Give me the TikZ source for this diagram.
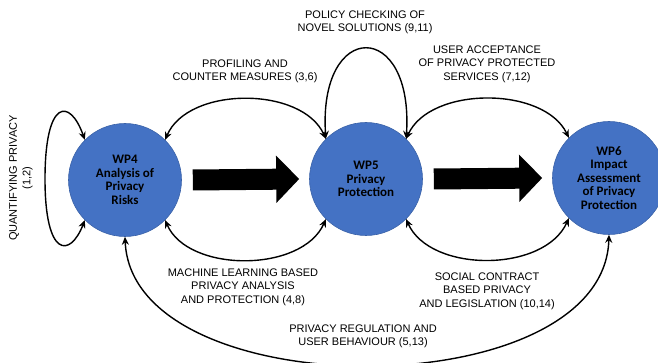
\documentclass[tikz,border=0pt]{standalone}
\usepackage{fontspec}
\setmainfont{Liberation Sans}
\newfontfamily\wpfont{Carlito}
\usetikzlibrary{arrows.meta,calc}
\definecolor{wpblue}{HTML}{4472C4}
\definecolor{wpedge}{HTML}{3A62A8}
\tikzset{
  wp/.style={circle, fill=wpblue, draw=wpedge, line width=0.6pt, minimum size=113pt, inner sep=0pt,
    align=center, font=\wpfont\bfseries\fontsize{13}{13.6}\selectfont, text=black},
  lbl/.style={align=center, inner sep=0pt, font=\fontsize{11}{13.5}\selectfont, text=black},
  link/.style={line width=1.4pt, {Stealth[length=8pt,width=7pt]}-{Stealth[length=8pt,width=7pt]}},
  bigarrow/.style={line width=21pt, -{Triangle[length=23pt,width=46pt]}}
}
\begin{document}
\begin{tikzpicture}[x=1pt,y=-1pt]
\useasboundingbox (0,0) rectangle (658,363);
\node[wp] (wp4) at (125,180) {WP4\\Analysis of\\Privacy\\Risks};
\node[wp] (wp5) at (366,179) {WP5\\Privacy\\Protection};
\node[wp] (wp6) at (609,178) {WP6\\Impact\\Assessment\\of Privacy\\Protection};

% big arrows
\coordinate (a1s) at ($(wp4.east)+(11,0)$);
\coordinate (a1e) at ($(wp5.west)+(-10,0)$);
\coordinate (a2s) at ($(wp5.east)+(11,0)$);
\coordinate (a2e) at ($(wp6.west)+(-10,0)$);
\draw[bigarrow] (a1s) -- (a1e);
\draw[bigarrow] (a2s) -- (a2e);

% self loops
\draw[link] (wp4.135) .. controls (70,98) and (45,98) .. (45,179) .. controls (45,258) and (70,258) .. (wp4.-135);
\draw[link] (wp5.135) .. controls (318,19) and (414,19) .. (wp5.45);

% top arcs
\draw[link] (wp4.45) .. controls (188,86) and (302,86) .. (wp5.135);
\draw[link] (wp5.45) .. controls (430,86) and (544,86) .. (wp6.135);

% bottom arcs
\draw[link] (wp4.-45) .. controls (188,273) and (302,273) .. (wp5.-135);
\draw[link] (wp5.-45) .. controls (430,273) and (544,273) .. (wp6.-135);

% long bottom arc
\draw[link] (wp4.south) .. controls (132,408) and (604,408) .. (wp6.south);

% labels
\node[lbl, rotate=90] (q) at (21,178) {QUANTIFYING PRIVACY\\(1,2)};
\node[lbl] (pol) at (365,22.5) {POLICY CHECKING OF\\NOVEL SOLUTIONS (9,11)};
\node[lbl] (prof) at (245,71.5) {PROFILING AND\\COUNTER MEASURES (3,6)};
\node[lbl] (ua) at (487,64) {USER ACCEPTANCE\\OF PRIVACY PROTECTED\\SERVICES (7,12)};
\node[lbl] (ml) at (243,287) {MACHINE LEARNING BASED\\PRIVACY ANALYSIS\\AND PROTECTION (4,8)};
\node[lbl] (sc) at (487,291) {SOCIAL CONTRACT\\BASED PRIVACY\\AND LEGISLATION (10,14)};
\node[lbl] (pr) at (363,336.5) {PRIVACY REGULATION AND\\USER BEHAVIOUR (5,13)};
\end{tikzpicture}
\end{document}
